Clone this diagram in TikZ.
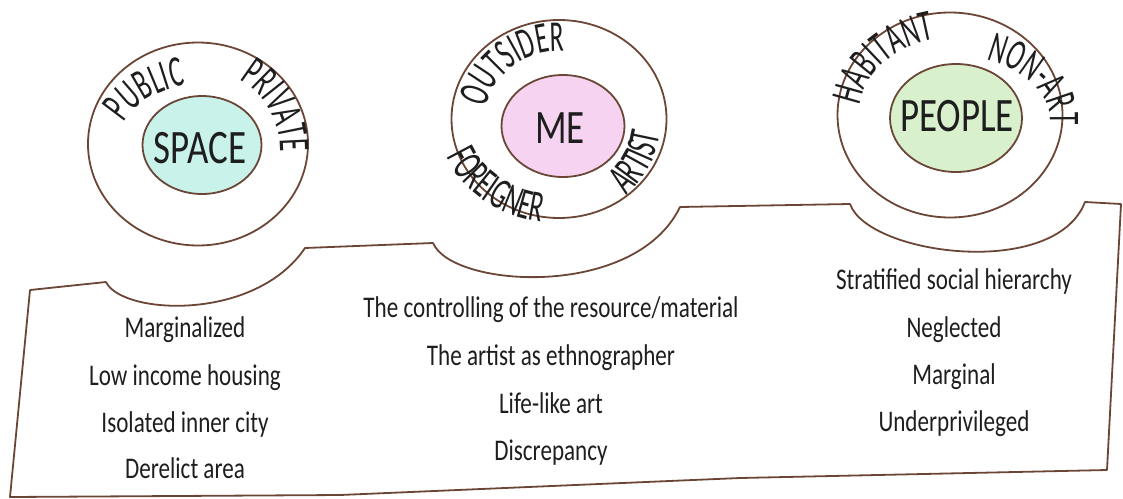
\documentclass[tikz,border=0pt]{standalone}
\usepackage{fontspec}
\setmainfont{Carlito}[FakeStretch=0.77]
\newfontfamily\ringfamily{Carlito}[FakeStretch=0.58]
\usepackage{tikz}
\usetikzlibrary{shapes.geometric,decorations.text}

\definecolor{inkbrown}{HTML}{6B4636}
\definecolor{inkblack}{HTML}{1E1E1E}
\definecolor{spacecyan}{HTML}{C8F2EA}
\definecolor{mepink}{HTML}{F6D4F1}
\definecolor{peoplegreen}{HTML}{D8F0CC}
\newcommand{\ringfont}{\color{inkblack}\ringfamily\fontsize{44}{46}\selectfont}

\begin{document}
\begin{tikzpicture}[x=1pt, y=-1pt,
  ring/.style={ellipse, draw=inkbrown, line width=1.8pt, inner sep=0pt},
  core/.style={ellipse, draw=inkbrown, line width=1.8pt, inner sep=0pt},
  corelabel/.style={text=inkblack, inner sep=0pt, font={\fontsize{48}{50}\selectfont}},
  ringtext/.style={decorate, decoration={text along path, text align=center, text={|\ringfont|#1}}},
  item/.style={text=inkblack, inner sep=0pt, anchor=base, font={\fontsize{30}{32}\selectfont}},
  outline/.style={draw=inkbrown, line width=1.8pt, line join=round}
]
\useasboundingbox (0,0) rectangle (1123,498);
% lower band with the three dips
\draw[outline] (30,290) -- (106,282) .. controls (122,315) and (255,322) .. (305,248)
  -- (433,243) .. controls (452,288) and (635,300) .. (680,207)
  -- (850,204) .. controls (868,255) and (1055,280) .. (1085,202)
  -- (1121,204) -- (1107,470) -- (740,478) -- (340,495) -- (10,497) -- cycle;
% outer rings
\node[ring, minimum width=220, minimum height=203] (spring) at (198,144) {};
\node[ring, minimum width=215, minimum height=198] (mering) at (559,119) {};
\node[ring, minimum width=225, minimum height=205] (ppring) at (950,115) {};
% cores
\node[core, fill=spacecyan, minimum width=119, minimum height=98] (sp) at (202,145) {};
\node[core, fill=mepink, minimum width=123, minimum height=102] (me) at (563,126) {};
\node[core, fill=peoplegreen, minimum width=132, minimum height=108] (pp) at (956,118) {};
\node[corelabel] (splabel) at (200,148) {SPACE};
\node[corelabel] (melabel) at (560,128) {ME};
\node[corelabel] (pplabel) at (957,116) {PEOPLE};
% ring words, bent along the rings
\path[ringtext=PUBLIC] (202,150) ++(179:86 and 66) arc[start angle=179, end angle=279, x radius=86, y radius=66];
\path[ringtext=PRIVATE] (198,150) ++(276:82 and 82) arc[start angle=276, end angle=386, x radius=82, y radius=82];
\path[ringtext=OUTSIDER] (560,122) ++(172:76 and 71) arc[start angle=172, end angle=292, x radius=76, y radius=71];
\path[ringtext=FOREIGNER] (559,119) ++(180:121 and 104) arc[start angle=180, end angle=80, x radius=121, y radius=104];
\path[ringtext=ARTIST] (559,119) ++(75:102 and 102) arc[start angle=75, end angle=-18, x radius=102, y radius=102];
\path[ringtext=HABITANT] (952,116) ++(170:93 and 78) arc[start angle=170, end angle=274, x radius=93, y radius=78];
\path[ringtext=NON-ART] (946,119) ++(282:104 and 64) arc[start angle=282, end angle=382, x radius=104, y radius=64];
% space column
\node[item] (sp1) at (185,337) {Marginalized};
\node[item] (sp2) at (185,385) {Low income housing};
\node[item] (sp3) at (185,432) {Isolated inner city};
\node[item] (sp4) at (185,478) {Derelict area};
% me column
\node[item] (me1) at (551,317) {The controlling of the resource/material};
\node[item] (me2) at (551,365) {The artist as ethnographer};
\node[item] (me3) at (551,413) {Life-like art};
\node[item] (me4) at (551,460) {Discrepancy};
% people column
\node[item] (pp1) at (954,289) {Stratified social hierarchy};
\node[item] (pp2) at (954,337) {Neglected};
\node[item] (pp3) at (954,384) {Marginal};
\node[item] (pp4) at (954,431) {Underprivileged};
\end{tikzpicture}
\end{document}
